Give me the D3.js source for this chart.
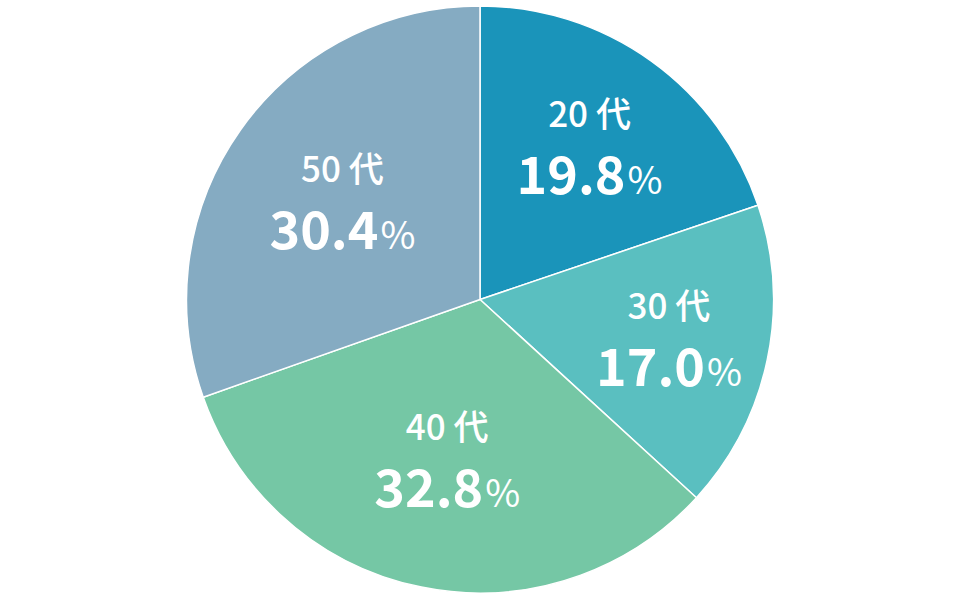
<!DOCTYPE html>
<html><head><meta charset="utf-8">
<script src="https://cdn.jsdelivr.net/npm/d3@7"></script>
<style>html,body{margin:0;padding:0;background:#fff;}svg{display:block;}</style>
</head><body>
<svg id="chart" width="960" height="600"></svg>
<script>
const categories = ["20 代", "30 代", "40 代", "50 代"];
const values = [19.8, 17.0, 32.8, 30.4];
const colors = ["#1A94BA", "#5ABFC0", "#75C7A5", "#85ABC2"];

const W = 960, H = 600;
const cx = 480, cy = 299.5, R = 293.5;
const svg = d3.select("#chart");
const g = svg.append("g").attr("transform", `translate(${cx},${cy})`);

const data = categories.map((c, i) => ({cat: c, val: values[i], color: colors[i]}));
const total = d3.sum(values);
const pie = d3.pie().value(d => d.val).sort(null);
const arcs = pie(data);
const arc = d3.arc().innerRadius(0).outerRadius(R);

g.selectAll("path").data(arcs).join("path")
  .attr("d", arc)
  .attr("fill", d => d.data.color)
  .attr("stroke", "#fff")
  .attr("stroke-width", 1.5);

const font = "'Noto Sans CJK JP', 'Noto Sans', sans-serif";
const labels = g.selectAll("g.lbl").data(arcs).join("g").attr("class", "lbl")
  .attr("transform", d => {
    const f = d.data.val / total;
    const r = R * (0.658 - 0.627 * (f - 0.17));
    const a = (d.startAngle + d.endAngle) / 2;
    return `translate(${r * Math.sin(a)},${-r * Math.cos(a)})`;
  });

labels.append("text")
  .attr("y", -20)
  .attr("text-anchor", "middle")
  .attr("fill", "#fff")
  .attr("font-family", font)
  .attr("font-weight", 500)
  .attr("font-size", 35)
  .text(d => d.data.cat);

const vt = labels.append("text")
  .attr("y", 47)
  .attr("text-anchor", "middle")
  .attr("fill", "#fff")
  .attr("font-family", font);
vt.append("tspan")
  .attr("font-weight", 700)
  .attr("font-size", 52)
  .text(d => d.data.val.toFixed(1));
vt.append("tspan")
  .attr("font-weight", 400)
  .attr("font-size", 38)
  .attr("dx", 2)
  .text("%");
</script>
</body></html>
